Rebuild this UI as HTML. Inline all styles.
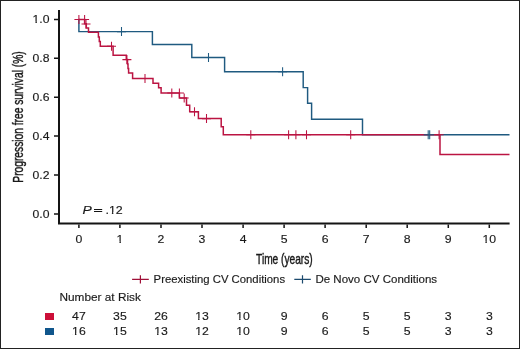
<!DOCTYPE html>
<html><head><meta charset="utf-8"><style>
html,body{margin:0;padding:0;background:#fff;overflow:hidden;}
svg{display:block;will-change:transform;}
text{font-family:"Liberation Sans",sans-serif;fill:#1a1a1a;stroke:#1a1a1a;stroke-width:1.5px;}
</style></head><body>
<svg width="520" height="349" viewBox="0 0 520 349">
<rect x="0.5" y="0.5" width="519" height="348" fill="#fff" stroke="#222" stroke-width="1"/>
<path d="M59 10V224.4M58 223.4H509.6" stroke="#141414" stroke-width="2" fill="none"/>
<path d="M54 19.4H58M54 58.3H58M54 97.2H58M54 136.1H58M54 175.0H58M54 213.9H58M78.9 224.4V228M119.9 224.4V228M161.0 224.4V228M202.0 224.4V228M243.1 224.4V228M284.1 224.4V228M325.1 224.4V228M366.2 224.4V228M407.2 224.4V228M448.3 224.4V228M489.3 224.4V228" stroke="#141414" stroke-width="1.5" fill="none"/>
<g transform="translate(49.50,23.35) scale(0.1070,0.1000)"><text text-anchor="end" style="font-size:114.0px">1.0</text><rect x="-156.2" y="-18.4" width="24.4" height="27.3" fill="#fff"/><rect x="-117.7" y="-18.4" width="23.2" height="27.3" fill="#fff"/></g>
<text transform="translate(49.50,62.24) scale(0.1070,0.1000)" text-anchor="end" style="font-size:114.0px">0.8</text>
<text transform="translate(49.50,101.13) scale(0.1070,0.1000)" text-anchor="end" style="font-size:114.0px">0.6</text>
<text transform="translate(49.50,140.02) scale(0.1070,0.1000)" text-anchor="end" style="font-size:114.0px">0.4</text>
<text transform="translate(49.50,178.91) scale(0.1070,0.1000)" text-anchor="end" style="font-size:114.0px">0.2</text>
<text transform="translate(49.50,217.80) scale(0.1070,0.1000)" text-anchor="end" style="font-size:114.0px">0.0</text>
<text transform="translate(78.90,243.20) scale(0.1040,0.1000)" text-anchor="middle" style="font-size:118.0px">0</text>
<g transform="translate(119.94,243.20) scale(0.1040,0.1000)"><text text-anchor="middle" style="font-size:118.0px">1</text><rect x="-30.5" y="-19.0" width="25.2" height="28.2" fill="#fff"/><rect x="9.4" y="-19.0" width="24.0" height="28.2" fill="#fff"/></g>
<text transform="translate(160.98,243.20) scale(0.1040,0.1000)" text-anchor="middle" style="font-size:118.0px">2</text>
<text transform="translate(202.02,243.20) scale(0.1040,0.1000)" text-anchor="middle" style="font-size:118.0px">3</text>
<text transform="translate(243.06,243.20) scale(0.1040,0.1000)" text-anchor="middle" style="font-size:118.0px">4</text>
<text transform="translate(284.10,243.20) scale(0.1040,0.1000)" text-anchor="middle" style="font-size:118.0px">5</text>
<text transform="translate(325.14,243.20) scale(0.1040,0.1000)" text-anchor="middle" style="font-size:118.0px">6</text>
<text transform="translate(366.18,243.20) scale(0.1040,0.1000)" text-anchor="middle" style="font-size:118.0px">7</text>
<text transform="translate(407.22,243.20) scale(0.1040,0.1000)" text-anchor="middle" style="font-size:118.0px">8</text>
<text transform="translate(448.26,243.20) scale(0.1040,0.1000)" text-anchor="middle" style="font-size:118.0px">9</text>
<g transform="translate(489.30,243.20) scale(0.1040,0.1000)"><text text-anchor="middle" style="font-size:118.0px">10</text><rect x="-63.3" y="-19.0" width="25.2" height="28.2" fill="#fff"/><rect x="-23.4" y="-19.0" width="24.0" height="28.2" fill="#fff"/></g>
<text transform="translate(23.00,117.00) rotate(-90) scale(0.0732,0.1000)" text-anchor="middle" style="font-size:140.0px;stroke:#1a1a1a;stroke-width:4.2px">Progression free survival (%)</text>
<text transform="translate(284.40,264.00) scale(0.0727,0.1000)" text-anchor="middle" style="font-size:140.0px;stroke:#1a1a1a;stroke-width:4.2px">Time (years)</text>
<text transform="translate(82.40,214.00) scale(0.1180,0.1000)" style="font-size:118.0px;font-style:italic">P</text>
<path d="M94 209.5H102.2M94 211.5H102.2" stroke="#141414" stroke-width="1" fill="none"/>
<g transform="translate(105.50,214.00) scale(0.1090,0.1000)"><text style="font-size:114.0px">.12</text><rect x="33.9" y="-18.4" width="24.4" height="27.3" fill="#fff"/><rect x="72.5" y="-18.4" width="23.2" height="27.3" fill="#fff"/></g>
<polyline points="78.7,19.5 78.9,19.5 78.9,31.6 152.4,31.6 152.4,44.5 191.8,44.5 191.8,57.5 224.6,57.5 224.6,71.8 303.2,71.8 303.2,87.6 307.6,87.6 307.6,103.3 311.6,103.3 311.6,119.2 362.5,119.2 362.5,134.8 509.5,134.8" fill="none" stroke="#1f5a80" stroke-width="1.45"/>
<polyline points="78.7,19.5 84.6,19.5 84.6,23.8 86.3,23.8 86.3,28.0 88.5,28.0 88.5,32.2 98.4,32.2 98.4,36.9 99.3,36.9 99.3,41.5 100.3,41.5 100.3,46.2 113.1,46.2 113.1,55.3 126.3,55.3 126.3,59.6 127.5,59.6 127.5,64.0 128.0,64.0 128.0,68.4 128.6,68.4 128.6,73.1 132.6,73.1 132.6,78.4 153.0,78.4 153.0,83.2 158.6,83.2 158.6,87.8 161.1,87.8 161.1,92.9 179.4,92.9 179.4,98.0 186.5,98.0 186.5,105.2 189.7,105.2 189.7,111.8 198.4,111.8 198.4,118.6 221.2,118.6 221.2,126.8 223.3,126.8 223.3,134.8 440.0,134.8 440.0,154.4 509.5,154.4" fill="none" stroke="#bb1442" stroke-width="1.5"/>
<path d="M117.0 31.6H126.0M121.5 27.1V36.1M204.0 57.5H213.0M208.5 53.0V62.0M278.1 71.8H287.1M282.6 67.3V76.3M423.7 134.8H432.7M428.2 130.3V139.3M425.2 134.8H434.2M429.7 130.3V139.3" fill="none" stroke="#1f5a80" stroke-width="1.05"/>
<path d="M74.4 19.5H83.4M78.9 15.0V24.0M80.1 19.5H89.1M84.6 15.0V24.0M81.5 24.0H90.5M86.0 19.5V28.5M107.0 46.2H116.0M111.5 41.7V50.7M122.4 59.6H131.4M126.9 55.1V64.1M140.5 78.4H149.5M145.0 73.9V82.9M167.3 92.9H176.3M171.8 88.4V97.4M174.9 92.9H183.9M179.4 88.4V97.4M179.7 98.0H188.7M184.2 93.5V102.5M190.0 111.8H199.0M194.5 107.3V116.3M202.0 118.6H211.0M206.5 114.1V123.1M246.3 134.8H255.3M250.8 130.3V139.3M284.1 134.8H293.1M288.6 130.3V139.3M291.4 134.8H300.4M295.9 130.3V139.3M302.0 134.8H311.0M306.5 130.3V139.3M346.2 134.8H355.2M350.7 130.3V139.3M434.6 134.8H443.6M439.1 130.3V139.3" fill="none" stroke="#bb1442" stroke-width="1.05"/>
<path d="M132.1 279.4H148.8M140.4 275.2V283.6" stroke="#a01038" stroke-width="1.2" fill="none"/>
<text transform="translate(153.60,283.00) scale(0.1012,0.1000)" style="font-size:112.0px">Preexisting CV Conditions</text>
<path d="M294.3 279.4H310.8M302.5 275.2V283.6" stroke="#1c4a6e" stroke-width="1.2" fill="none"/>
<text transform="translate(315.40,283.00) scale(0.1030,0.1000)" style="font-size:112.0px">De Novo CV Conditions</text>
<text transform="translate(59.50,300.90) scale(0.1055,0.1000)" style="font-size:112.0px">Number at Risk</text>
<rect x="45" y="313" width="9" height="7" fill="#cc0f38"/>
<rect x="45" y="328" width="9" height="7" fill="#10568c"/>
<text transform="translate(78.90,320.00) scale(0.1040,0.1000)" text-anchor="middle" style="font-size:118.0px">47</text>
<g transform="translate(78.90,335.20) scale(0.1040,0.1000)"><text text-anchor="middle" style="font-size:118.0px">16</text><rect x="-63.3" y="-19.0" width="25.2" height="28.2" fill="#fff"/><rect x="-23.4" y="-19.0" width="24.0" height="28.2" fill="#fff"/></g>
<text transform="translate(119.94,320.00) scale(0.1040,0.1000)" text-anchor="middle" style="font-size:118.0px">35</text>
<g transform="translate(119.94,335.20) scale(0.1040,0.1000)"><text text-anchor="middle" style="font-size:118.0px">15</text><rect x="-63.3" y="-19.0" width="25.2" height="28.2" fill="#fff"/><rect x="-23.4" y="-19.0" width="24.0" height="28.2" fill="#fff"/></g>
<text transform="translate(160.98,320.00) scale(0.1040,0.1000)" text-anchor="middle" style="font-size:118.0px">26</text>
<g transform="translate(160.98,335.20) scale(0.1040,0.1000)"><text text-anchor="middle" style="font-size:118.0px">13</text><rect x="-63.3" y="-19.0" width="25.2" height="28.2" fill="#fff"/><rect x="-23.4" y="-19.0" width="24.0" height="28.2" fill="#fff"/></g>
<g transform="translate(202.02,320.00) scale(0.1040,0.1000)"><text text-anchor="middle" style="font-size:118.0px">13</text><rect x="-63.3" y="-19.0" width="25.2" height="28.2" fill="#fff"/><rect x="-23.4" y="-19.0" width="24.0" height="28.2" fill="#fff"/></g>
<g transform="translate(202.02,335.20) scale(0.1040,0.1000)"><text text-anchor="middle" style="font-size:118.0px">12</text><rect x="-63.3" y="-19.0" width="25.2" height="28.2" fill="#fff"/><rect x="-23.4" y="-19.0" width="24.0" height="28.2" fill="#fff"/></g>
<g transform="translate(243.06,320.00) scale(0.1040,0.1000)"><text text-anchor="middle" style="font-size:118.0px">10</text><rect x="-63.3" y="-19.0" width="25.2" height="28.2" fill="#fff"/><rect x="-23.4" y="-19.0" width="24.0" height="28.2" fill="#fff"/></g>
<g transform="translate(243.06,335.20) scale(0.1040,0.1000)"><text text-anchor="middle" style="font-size:118.0px">10</text><rect x="-63.3" y="-19.0" width="25.2" height="28.2" fill="#fff"/><rect x="-23.4" y="-19.0" width="24.0" height="28.2" fill="#fff"/></g>
<text transform="translate(284.10,320.00) scale(0.1040,0.1000)" text-anchor="middle" style="font-size:118.0px">9</text>
<text transform="translate(284.10,335.20) scale(0.1040,0.1000)" text-anchor="middle" style="font-size:118.0px">9</text>
<text transform="translate(325.14,320.00) scale(0.1040,0.1000)" text-anchor="middle" style="font-size:118.0px">6</text>
<text transform="translate(325.14,335.20) scale(0.1040,0.1000)" text-anchor="middle" style="font-size:118.0px">6</text>
<text transform="translate(366.18,320.00) scale(0.1040,0.1000)" text-anchor="middle" style="font-size:118.0px">5</text>
<text transform="translate(366.18,335.20) scale(0.1040,0.1000)" text-anchor="middle" style="font-size:118.0px">5</text>
<text transform="translate(407.22,320.00) scale(0.1040,0.1000)" text-anchor="middle" style="font-size:118.0px">5</text>
<text transform="translate(407.22,335.20) scale(0.1040,0.1000)" text-anchor="middle" style="font-size:118.0px">5</text>
<text transform="translate(448.26,320.00) scale(0.1040,0.1000)" text-anchor="middle" style="font-size:118.0px">3</text>
<text transform="translate(448.26,335.20) scale(0.1040,0.1000)" text-anchor="middle" style="font-size:118.0px">3</text>
<text transform="translate(489.30,320.00) scale(0.1040,0.1000)" text-anchor="middle" style="font-size:118.0px">3</text>
<text transform="translate(489.30,335.20) scale(0.1040,0.1000)" text-anchor="middle" style="font-size:118.0px">3</text>
</svg>
</body></html>
